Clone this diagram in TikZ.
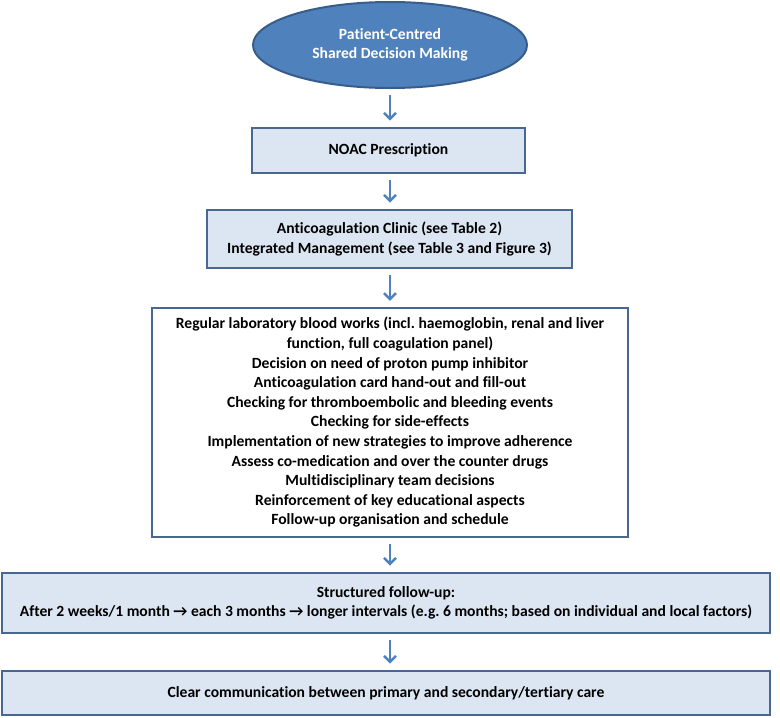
\documentclass[tikz,border=0pt]{standalone}
\usepackage{fontspec}
\setmainfont{Carlito}[Ligatures=NoCommon]
\usetikzlibrary{shapes.geometric,arrows.meta}
\definecolor{boxfill}{HTML}{DCE6F2}
\definecolor{boxline}{HTML}{4A6791}
\definecolor{ellfill}{HTML}{4F81BD}
\definecolor{ellline}{HTML}{385D8A}
\definecolor{arrowc}{HTML}{4F81BD}
\frenchspacing
\begin{document}
\begin{tikzpicture}[x=1pt,y=-1pt,
  every node/.style={font=\fontsize{15.6}{19.6}\selectfont\bfseries\frenchspacing, align=center, inner sep=0pt},
  bluebox/.style={draw=boxline, fill=boxfill, line width=2.6pt, rectangle},
  listbox/.style={draw=boxline, fill=white, line width=2.2pt, rectangle},
  flow/.style={draw=arrowc, line width=2.5pt, -{Straight Barb[length=6pt,width=12pt]}, shorten <=6pt, shorten >=6pt}]
\useasboundingbox (0,0) rectangle (780,718);
\node[ellipse, draw=ellline, fill=ellfill, line width=2pt, text=white,
      minimum width=274pt, minimum height=86pt] (e) at (390,45)
      {Patient-Centred\\Shared Decision Making};
\node[bluebox, minimum width=273pt, minimum height=45pt] (noac) at (388.5,150.5) {NOAC Prescription};
\node[bluebox, minimum width=365pt, minimum height=58pt] (clinic) at (389.5,239)
      {Anticoagulation Clinic (see Table 2)\\Integrated Management (see Table 3 and Figure 3)};
\node[listbox, minimum width=476pt, minimum height=229pt] (list) at (390,422.5)
      {Regular laboratory blood works (incl. haemoglobin, renal and liver\\
       function, full coagulation panel)\\
       Decision on need of proton pump inhibitor\\
       Anticoagulation card hand-out and fill-out\\
       Checking for thromboembolic and bleeding events\\
       Checking for side-effects\\
       Implementation of new strategies to improve adherence\\
       Assess co-medication and over the counter drugs\\
       Multidisciplinary team decisions\\
       Reinforcement of key educational aspects\\
       Follow-up organisation and schedule};
\node[bluebox, minimum width=768pt, minimum height=60pt] (fu) at (386,603)
      {Structured follow-up:\\After 2 weeks/1 month → each 3 months → longer intervals (e.g. 6 months; based on individual and local factors)};
\node[bluebox, minimum width=768pt, minimum height=44pt] (comm) at (386,693)
      {Clear communication between primary and secondary/tertiary care};
\draw[flow] (e.south) -- (e.south |- noac.north);
\draw[flow] (e.south |- noac.south) -- (e.south |- clinic.north);
\draw[flow] (e.south |- clinic.south) -- (e.south |- list.north);
\draw[flow] (e.south |- list.south) -- (e.south |- fu.north);
\draw[flow] (e.south |- fu.south) -- (e.south |- comm.north);
\end{tikzpicture}
\end{document}
